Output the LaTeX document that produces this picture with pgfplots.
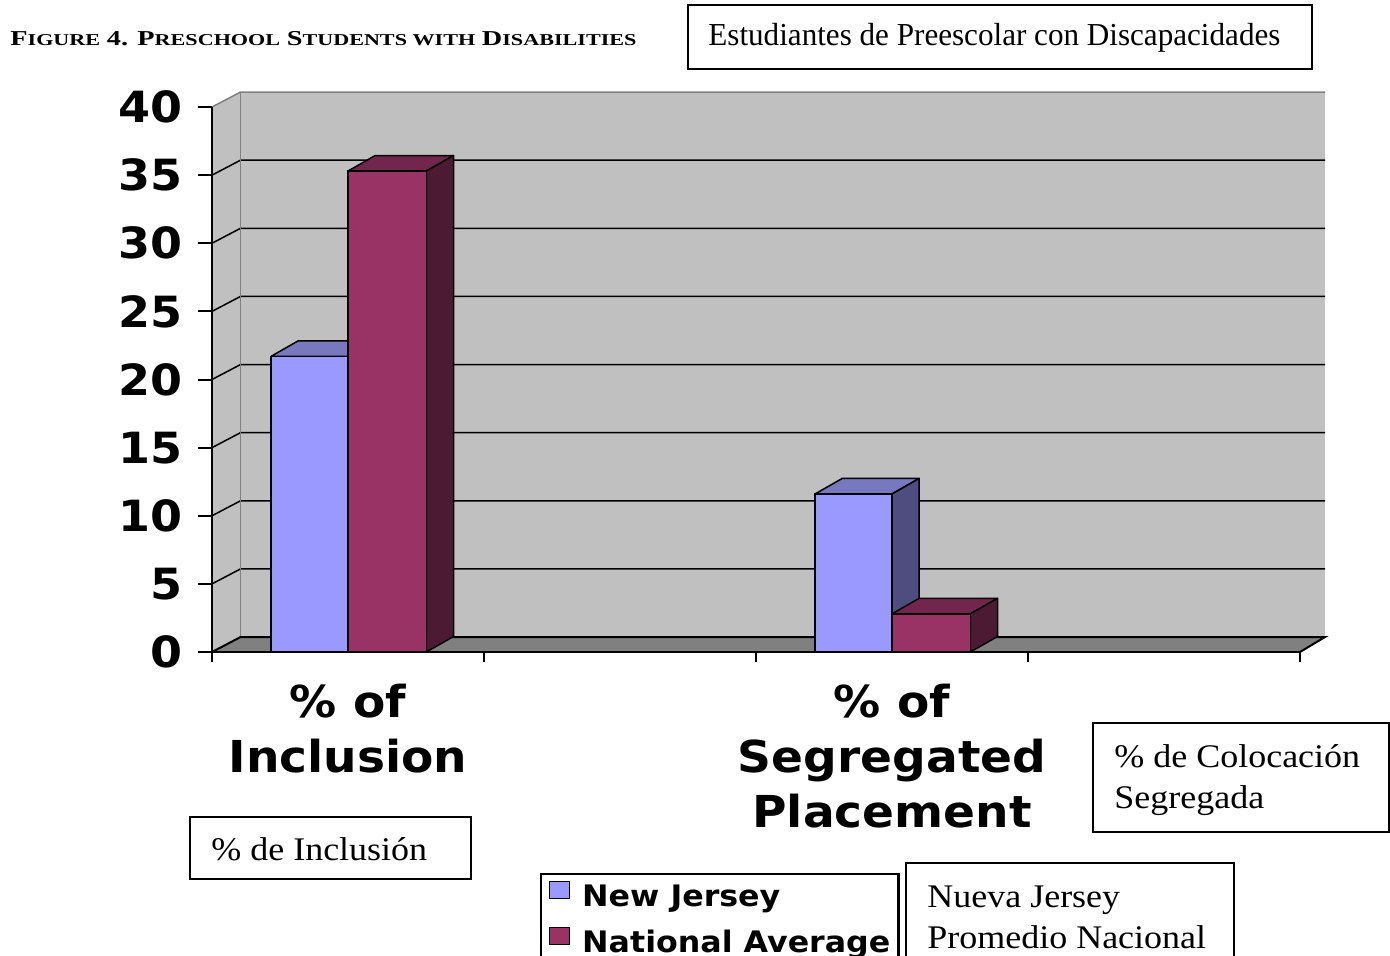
\documentclass[border=0pt]{standalone}
\usepackage{graphicx}
\usepackage{pgfplots}
\pgfplotsset{compat=1.18}
\usepackage{fontspec}
\setmainfont{Liberation Serif}
\newfontfamily\chartfont{DejaVu Sans}[FakeStretch=1.07]
\newfontfamily\boxfont{Liberation Serif}[FakeStretch=1.09]

\definecolor{wall}{HTML}{C0C0C0}
\definecolor{floorc}{HTML}{808080}
\definecolor{njfront}{HTML}{9999FF}
\definecolor{njtop}{HTML}{7878BE}
\definecolor{njside}{HTML}{4D4D80}
\definecolor{nafront}{HTML}{993366}
\definecolor{natop}{HTML}{73264D}
\definecolor{naside}{HTML}{4D1A33}

% depth of the bars, in axis units
\newcommand\dpx{0.1}
\newcommand\dpy{1.14}
% top and side faces of a bar: left, right, value, top colour, side colour
\newcommand{\barfaces}[5]{%
  \pgfmathsetmacro\fxa{#1}\pgfmathsetmacro\fxb{#2}\pgfmathsetmacro\fv{#3}%
  \pgfmathsetmacro\fxc{#1+\dpx}\pgfmathsetmacro\fxd{#2+\dpx}\pgfmathsetmacro\fw{#3+\dpy}%
  \edef\doplot{%
    \noexpand\addplot[forget plot, fill=#4, draw=black, line width=0.75pt, line join=round]
      coordinates {(\fxa,\fv) (\fxc,\fw) (\fxd,\fw) (\fxb,\fv)} -- cycle;
    \noexpand\addplot[forget plot, fill=#5, draw=black, line width=0.75pt, line join=round]
      coordinates {(\fxb,0) (\fxb,\fv) (\fxd,\fw) (\fxd,\dpy)} -- cycle;}%
  \doplot}

\newcommand\bigc[1]{{\fontsize{10.6}{12}\selectfont #1}}
\newcommand\smc[1]{{\fontsize{8.3}{10}\selectfont #1}}

\pgfplotsset{
  sqlegend/.style={legend image code/.code={%
    \draw[##1, draw=black, line width=0.5pt] (0pt,0pt) rectangle (10pt,8.5pt);}},
}

\begin{document}
\begin{tikzpicture}
\useasboundingbox (0,0) rectangle (695pt,477.5pt);
\clip (0,0) rectangle (695pt,477.5pt);

\begin{axis}[
  at={(106pt,151.5pt)}, anchor=south west,
  scale only axis, width=544pt, height=272.5pt,
  xmin=0, xmax=4, ymin=0, ymax=40,
  clip=false,
  axis on top,
  axis x line*=bottom, axis y line*=left,
  axis line style={line width=1pt, black},
  tick align=outside,
  major tick length=7pt,
  /pgf/number format/assume math mode=true,
  ytick={0,5,...,40},
  ytick style={line width=1pt, black},
  yticklabel style={font=\chartfont\bfseries\fontsize{21.5}{21.5}\selectfont,
    anchor=east, inner sep=0pt, xshift=-7.5pt},
  xtick={0.5,2.5},
  xticklabels={{\% of\\Inclusion},{\% of\\Segregated\\Placement}},
  xtick style={draw=none},
  xticklabel style={font=\chartfont\bfseries\fontsize{22}{27.5}\selectfont,
    align=center, anchor=north, inner sep=0pt, yshift=-9pt},
  extra x ticks={0,1,2,3,4},
  extra x tick labels={},
  extra x tick style={major tick length=5pt, xtick style={draw=black, line width=1pt}},
  legend style={at={(axis description cs:0.3015,-0.4055)}, anchor=north west,
    draw=black, line width=1.2pt, fill=white,
    font=\chartfont\bfseries\fontsize{14.8}{14.8}\selectfont,
    inner xsep=4pt, inner ysep=3.5pt,
    nodes={text height=11pt, text depth=3pt, inner ysep=0pt, inner xsep=0pt},
    row sep=7pt, column sep=6pt, cells={anchor=west}},
  legend cell align=left,
]
% back wall, left wall and floor
\fill[wall] (axis cs:0.105,1.1) rectangle (axis cs:4.092,41.1);
\fill[wall] (axis cs:0,0) -- (axis cs:0,40) -- (axis cs:0.105,41.1) -- (axis cs:0.105,1.1) -- cycle;
\fill[floorc] (axis cs:0,0) -- (axis cs:0.105,1.1) -- (axis cs:4.092,1.1) -- (axis cs:4,0) -- cycle;
% grid lines on the walls
\draw[black, line width=0.75pt] (axis cs:0,5) -- (axis cs:0.105,6.1) -- (axis cs:4.092,6.1);
\draw[black, line width=0.75pt] (axis cs:0,10) -- (axis cs:0.105,11.1) -- (axis cs:4.092,11.1);
\draw[black, line width=0.75pt] (axis cs:0,15) -- (axis cs:0.105,16.1) -- (axis cs:4.092,16.1);
\draw[black, line width=0.75pt] (axis cs:0,20) -- (axis cs:0.105,21.1) -- (axis cs:4.092,21.1);
\draw[black, line width=0.75pt] (axis cs:0,25) -- (axis cs:0.105,26.1) -- (axis cs:4.092,26.1);
\draw[black, line width=0.75pt] (axis cs:0,30) -- (axis cs:0.105,31.1) -- (axis cs:4.092,31.1);
\draw[black, line width=0.75pt] (axis cs:0,35) -- (axis cs:0.105,36.1) -- (axis cs:4.092,36.1);
\draw[floorc, line width=0.75pt] (axis cs:0,40) -- (axis cs:0.105,41.1) -- (axis cs:4.092,41.1);
\draw[floorc, line width=0.75pt] (axis cs:0.105,1.1) -- (axis cs:0.105,41.1);
\draw[black, line width=1pt] (axis cs:0,0) -- (axis cs:0.105,1.1) -- (axis cs:4.092,1.1) -- (axis cs:4,0);

% New Jersey
\barfaces{0.217}{0.5}{21.7}{njtop}{njside}
\barfaces{2.217}{2.5}{11.6}{njtop}{njside}
\addplot[ybar, bar width=0.283, bar shift=-0.1415, fill=njfront, draw=black,
  line width=0.75pt, sqlegend] coordinates {(0.5,21.7) (2.5,11.6)};
\addlegendentry{New Jersey}

% National average
\barfaces{0.5}{0.788}{35.3}{natop}{naside}
\barfaces{2.5}{2.788}{2.8}{natop}{naside}
\addplot[ybar, bar width=0.288, bar shift=0.144, fill=nafront, draw=black,
  line width=0.75pt, sqlegend] coordinates {(0.5,35.3) (2.5,2.8)};
\addlegendentry{National Average}
\end{axis}

\begin{scope}[x=0.5pt, y=-0.5pt, shift={(0pt,477.5pt)}]
  % heading
  \node[anchor=base west, inner sep=0pt] at (10,46)
    {\resizebox{313pt}{\height}{\bfseries\bigc{F}\smc{IGURE} \bigc{4. P}\smc{RESCHOOL} \bigc{S}\smc{TUDENTS WITH} \bigc{D}\smc{ISABILITIES}}};
  % Spanish captions
  \draw[line width=0.6pt] (688,5) rectangle (1312,69);
  \node[anchor=base west, inner sep=0pt] at (708,46)
    {\resizebox{286pt}{\height}{\fontsize{16}{18}\selectfont Estudiantes de Preescolar con Discapacidades}};

  \draw[line width=0.6pt] (1093,723) rectangle (1389,832);
  \node[anchor=base west, inner sep=0pt] at (1114,767) {\boxfont\fontsize{16.5}{20}\selectfont \% de Colocación};
  \node[anchor=base west, inner sep=0pt] at (1114,808) {\boxfont\fontsize{16.5}{20}\selectfont Segregada};

  \draw[line width=0.6pt] (190,817) rectangle (471,879);
  \node[anchor=base west, inner sep=0pt] at (211,860) {\boxfont\fontsize{16.5}{20}\selectfont \% de Inclusión};

  \draw[line width=0.6pt] (906,863) rectangle (1234,1000);
  \node[anchor=base west, inner sep=0pt] at (927,907) {\boxfont\fontsize{16.5}{20}\selectfont Nueva Jersey};
  \node[anchor=base west, inner sep=0pt] at (927,948) {\boxfont\fontsize{16.5}{20}\selectfont Promedio Nacional};
\end{scope}
\end{tikzpicture}
\end{document}
